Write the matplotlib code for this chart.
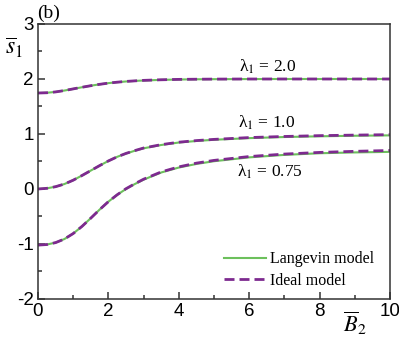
import matplotlib
matplotlib.use("Agg")
import matplotlib.pyplot as plt
from matplotlib.ticker import MultipleLocator

plt.rcParams['mathtext.fontset'] = 'stix'
plt.rcParams['axes.unicode_minus'] = False

# data
b2 = [0, 0.25, 0.5, 0.75, 1, 1.25, 1.5, 1.75, 2, 2.25, 2.5, 2.75, 3, 3.5, 4,
      4.5, 5, 6, 7, 8, 9, 10]

lang_20 = [1.745, 1.75, 1.765, 1.79, 1.82, 1.85, 1.878, 1.903, 1.925, 1.942, 1.955,
           1.965, 1.973, 1.984, 1.991, 1.995, 1.997, 1.999, 2.0, 2.0, 2.0, 2.0]
ideal_20 = [1.745, 1.75, 1.765, 1.79, 1.82, 1.85, 1.878, 1.903, 1.925, 1.942, 1.956,
            1.966, 1.975, 1.986, 1.993, 1.996, 1.998, 2.0, 2.0, 2.0, 2.0, 2.0]

lang_10 = [0, 0.012, 0.042, 0.09, 0.16, 0.245, 0.335, 0.425, 0.51, 0.585, 0.645,
           0.695, 0.74, 0.80, 0.845, 0.873, 0.895, 0.925, 0.945, 0.958, 0.968, 0.975]
ideal_10 = [0, 0.012, 0.042, 0.09, 0.16, 0.245, 0.335, 0.425, 0.51, 0.585, 0.647,
            0.698, 0.745, 0.806, 0.851, 0.88, 0.902, 0.935, 0.955, 0.97, 0.98, 0.988]

lang_075 = [-1.02, -1.01, -0.975, -0.91, -0.81, -0.68, -0.53, -0.375, -0.23, -0.105,
            0.0, 0.09, 0.17, 0.30, 0.39, 0.455, 0.505, 0.575, 0.62, 0.65, 0.665, 0.675]
ideal_075 = [-1.02, -1.01, -0.975, -0.91, -0.81, -0.68, -0.53, -0.375, -0.23, -0.105,
             0.005, 0.095, 0.178, 0.31, 0.402, 0.47, 0.52, 0.59, 0.635, 0.665, 0.685, 0.70]

labels = ["λ$_1$ = 2.0", "λ$_1$ = 1.0", "λ$_1$ = 0.75"]
label_x = [6.52, 6.5, 6.6]
label_y = [2.22, 1.2, 0.31]

green = '#6cc05c'
purple = '#7d2a8f'

fig = plt.figure(figsize=(3.99, 3.38), dpi=100)
ax = fig.add_axes([0.0952, 0.1154, 0.8822, 0.8136])

for lang in [lang_20, lang_10, lang_075]:
    ax.plot(b2, lang, color=green, lw=1.5)
for ideal in [ideal_20, ideal_10, ideal_075]:
    ax.plot(b2, ideal, color=purple, lw=2, dashes=(3.6, 1.8))

for t, x, y in zip(labels, label_x, label_y):
    ax.text(x, y, t, ha='center', va='center', fontsize=12.5,
            family='Liberation Serif')

ax.set_xlim(0, 10)
ax.set_ylim(-2, 3)
ax.xaxis.set_major_locator(MultipleLocator(2))
ax.xaxis.set_minor_locator(MultipleLocator(1))
ax.yaxis.set_major_locator(MultipleLocator(1))
ax.yaxis.set_minor_locator(MultipleLocator(0.5))
ax.tick_params(which='both', direction='in', color='#333333', width=1.1,
               labelsize=13.5, pad=3)
ax.tick_params(which='major', length=5)
ax.tick_params(which='minor', length=3)
for lab in ax.get_xticklabels() + ax.get_yticklabels():
    lab.set_family('Liberation Sans')
for s in ax.spines.values():
    s.set_color('#333333')
    s.set_linewidth(1.1)

# legend built from dummy handles
h1, = ax.plot([], [], color=green, lw=1.5, label='Langevin model')
h2, = ax.plot([], [], color=purple, lw=2, dashes=(3.6, 1.8), label='Ideal model')
leg = ax.legend(handles=[h1, h2], loc='lower right', frameon=False,
                bbox_to_anchor=(0.995, -0.015), handlelength=2.6, handletextpad=0.25,
                labelspacing=0.35, prop={'family': 'Liberation Serif', 'size': 11.5})

fig.text(0.035, 0.858, r'$\overline{s}_1$', fontsize=17, ha='center', va='center')
fig.text(0.888, 0.045, r'$\overline{B}_2$', fontsize=16, ha='center', va='center')
fig.text(0.092, 0.962, '(b)', fontsize=14, family='Liberation Serif',
         ha='left', va='center')

fig.savefig('out.png', dpi=100)
